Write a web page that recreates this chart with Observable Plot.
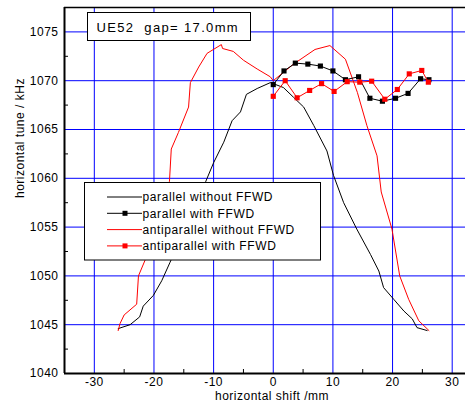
<!DOCTYPE html>
<html>
<head>
<meta charset="utf-8">
<script src="https://cdn.jsdelivr.net/npm/d3@7"></script>
<script src="https://cdn.jsdelivr.net/npm/@observablehq/plot@0.6"></script>
<style>
  html, body { margin: 0; padding: 0; background: #fff; overflow: hidden; }
  svg text { letter-spacing: 0.5px; }
</style>
</head>
<body>
<div id="chart"></div>
<script>
// ---- data ----
const parallelX = [-26.0,-24.0,-22.4,-21.8,-20.1,-18.7,-17.3,-11.3,-10.0,-8.3,-6.9,-5.5,-4.5,-2.7,-0.5,0.0,1.7,3.4,5.1,6.8,9.0,10.1,11.8,14.0,16.3,17.7,18.5,20.2,21.9,23.3,24.1,25.8];
const parallelY = [1044.6,1045.0,1045.8,1046.9,1048.0,1049.5,1051.4,1059.7,1061.6,1063.7,1065.9,1066.8,1068.6,1069.2,1069.8,1069.7,1069.3,1068.3,1067.3,1065.4,1062.8,1060.3,1057.5,1054.8,1052.2,1050.5,1048.8,1047.6,1046.4,1045.6,1044.7,1044.4];

const antiX = [-26.0,-25.7,-25.0,-22.9,-22.6,-21.5,-17.4,-17.1,-15.9,-14.2,-13.9,-12.5,-11.1,-8.7,-8.5,-6.7,-5.0,-2.7,-0.5,0.0,3.4,7.0,9.5,12.1,14.1,15.7,17.4,18.1,19.9,21.2,22.7,24.4,26.1];
const antiY = [1044.4,1045.1,1046.0,1047.1,1050.0,1051.6,1059.7,1063.0,1064.7,1067.3,1069.8,1071.4,1072.8,1073.7,1073.3,1073.0,1072.1,1071.2,1070.4,1070.0,1071.7,1073.2,1073.6,1072.2,1068.8,1065.4,1062.3,1058.6,1054.8,1050.0,1047.6,1045.4,1044.4];

const parFfwdX = [0,1.8,3.7,5.8,7.9,10.0,12.1,14.3,16.2,18.3,20.5,22.6,24.7,26.1];
const parFfwdY = [1069.6,1071.0,1071.8,1071.7,1071.5,1071.0,1070.1,1070.4,1068.2,1067.9,1068.2,1068.7,1070.2,1070.1];

const antiFfwdX = [0,2.0,4.0,6.1,8.1,10.2,12.4,14.5,16.5,18.7,20.8,22.8,24.9,26.0];
const antiFfwdY = [1068.4,1070.0,1068.25,1069.0,1069.7,1068.9,1069.9,1069.85,1069.95,1068.1,1069.1,1070.7,1071.05,1069.85];

const xDomain = [-35, 32.23];
const yDomain = [1040, 1077.5];
const xTicks = [-30,-20,-10,0,10,20,30];
const xMinor = [-25,-15,-5,5,15,25];
const yTicks = [1040,1045,1050,1055,1060,1065,1070,1075];
const yMinor = [1042.5,1047.5,1052.5,1057.5,1062.5,1067.5,1072.5,1077.5];

const titleText = "UE52  gap= 17.0mm";
const xLabel = "horizontal shift /mm";
const yLabel = "horizontal tune / kHz";
const legendLabels = ["parallel without FFWD","parallel with FFWD","antiparallel without FFWD","antiparallel with FFWD"];
const legendColors = ["#000000","#000000","#ff0000","#ff0000"];
const legendMarkers = [false,true,false,true];

const toRows = (xs, ys) => xs.map((x, i) => ({x, y: ys[i]}));
const parallel = toRows(parallelX, parallelY);
const anti = toRows(antiX, antiY);
const parFfwd = toRows(parFfwdX, parFfwdY);
const antiFfwd = toRows(antiFfwdX, antiFfwdY);

const W = 465, H = 402, mL = 64, mR = 0, mT = 7, mB = 29;

// overlay: title box + legend (pixel layout, not data)
function overlay() {
  const g = d3.create("svg:g").attr("text-anchor", "start");
  // title box
  g.append("rect").attr("x", 87.5).attr("y", 12.5).attr("width", 163).attr("height", 28)
    .attr("fill", "white").attr("stroke", "black").attr("stroke-width", 1);
  g.append("text").attr("x", 96.5).attr("y", 31.5).attr("text-anchor", "start")
    .attr("font-size", 13).attr("style", "letter-spacing:1.35px; white-space:pre")
    .attr("fill", "black").text(titleText);
  // legend box
  g.append("rect").attr("x", 84.5).attr("y", 182.5).attr("width", 236).attr("height", 77.5)
    .attr("fill", "white").attr("stroke", "black").attr("stroke-width", 1);
  legendLabels.forEach((lab, i) => {
    const yy = 197 + i * 16.3;
    g.append("line").attr("x1", 107).attr("x2", 142).attr("y1", yy).attr("y2", yy)
      .attr("stroke", legendColors[i]).attr("stroke-width", 1);
    if (legendMarkers[i]) {
      g.append("rect").attr("x", 122.5).attr("y", yy - 2.5).attr("width", 5).attr("height", 5)
        .attr("fill", legendColors[i]);
    }
    g.append("text").attr("x", 142.5).attr("y", yy).attr("dy", "0.36em").attr("text-anchor", "start")
      .attr("font-size", 12).attr("style", "letter-spacing:0.6px")
      .attr("fill", "black").text(lab);
  });
  return g.node();
}

const chart = Plot.plot({
  width: W, height: H,
  marginLeft: mL, marginRight: mR, marginTop: mT, marginBottom: mB,
  style: {fontFamily: "Arial, 'Liberation Sans', sans-serif", fontSize: "12px", background: "white", color: "black"},
  x: {domain: xDomain, ticks: xTicks, tickSize: 0, tickPadding: 4, label: null, tickFormat: d => String(d)},
  y: {domain: yDomain, ticks: yTicks, tickSize: 0, tickPadding: 6, label: null, tickFormat: d => String(d)},
  marks: [
    Plot.ruleX(xTicks, {stroke: "#0000ff", strokeWidth: 1}),
    Plot.ruleY(yTicks, {stroke: "#0000ff", strokeWidth: 1}),
    Plot.ruleX(xMinor, {stroke: "black", insetTop: (H - mT - mB) - 4}),
    Plot.ruleY(yMinor, {stroke: "black", insetRight: (W - mL - mR) - 4}),
    Plot.line(parallel, {x: "x", y: "y", stroke: "black", strokeWidth: 1}),
    Plot.line(anti, {x: "x", y: "y", stroke: "#ff0000", strokeWidth: 1}),
    Plot.line(parFfwd, {x: "x", y: "y", stroke: "black", strokeWidth: 1}),
    Plot.dot(parFfwd, {x: "x", y: "y", symbol: "square", fill: "black", r: 2.9}),
    Plot.line(antiFfwd, {x: "x", y: "y", stroke: "#ff0000", strokeWidth: 1}),
    Plot.dot(antiFfwd, {x: "x", y: "y", symbol: "square", fill: "#ff0000", r: 2.9}),
    Plot.ruleX([xDomain[0]], {stroke: "black", strokeWidth: 2}),
    Plot.ruleY([yDomain[0]], {stroke: "black", strokeWidth: 2}),
    Plot.ruleY([yDomain[1]], {stroke: "black", strokeWidth: 1.5}),
    Plot.text([xLabel], {frameAnchor: "bottom", dx: 7, dy: 26.5, fontSize: 12}),
    Plot.text([yLabel], {frameAnchor: "left", rotate: -90, dx: -44.5, dy: 7.5, fontSize: 12}),
    overlay
  ]
});
document.getElementById("chart").appendChild(chart);
</script>
</body>
</html>
